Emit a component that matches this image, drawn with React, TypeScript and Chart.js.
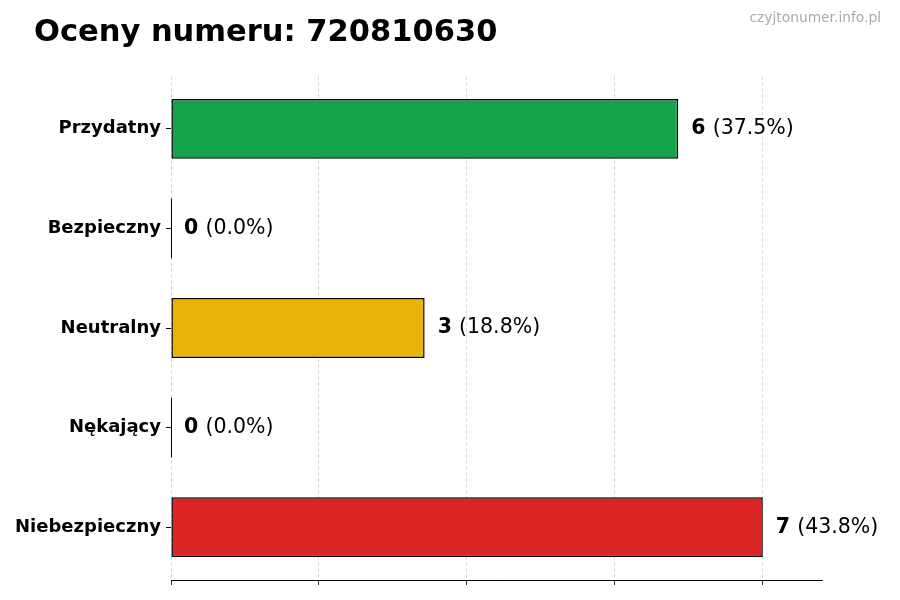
import React, { useEffect, useRef } from "react";
import { Chart, registerables } from "chart.js";

Chart.register(...registerables);

const categories = ["Przydatny", "Bezpieczny", "Neutralny", "Nękający", "Niebezpieczny"];
const counts = [6, 0, 3, 0, 7];
const percents = ["37.5%", "0.0%", "18.8%", "0.0%", "43.8%"];
const barColors = ["#16a34a", "#16a34a", "#eab308", "#dc2626", "#dc2626"];
const xTicks = [0, 1.75, 3.5, 5.25, 7];
const xMax = 7.7;
const yMin = -0.53;
const yMax = 4.53;
const titleText = "Oceny numeru: 720810630";
const watermark = "czyjtonumer.info.pl";

const FONT = "'DejaVu Sans', sans-serif";

const overlayPlugin = {
  id: "overlay",
  afterDatasetsDraw(chart: any) {
    const ctx = chart.ctx;
    const meta = chart.getDatasetMeta(0);
    ctx.save();
    meta.data.forEach((el: any, i: number) => {
      const props = el.getProps(["x", "y", "base", "height"], true);
      if (counts[i] === 0) {
        ctx.strokeStyle = "#000";
        ctx.lineWidth = 1;
        ctx.beginPath();
        ctx.moveTo(Math.round(props.base) + 0.5, props.y - props.height / 2);
        ctx.lineTo(Math.round(props.base) + 0.5, props.y + props.height / 2);
        ctx.stroke();
      }
      const x0 = props.x + 13;
      ctx.textBaseline = "middle";
      ctx.textAlign = "left";
      ctx.fillStyle = "#000";
      ctx.font = `bold 20.5px ${FONT}`;
      const numStr = String(counts[i]);
      ctx.fillText(numStr, x0, props.y);
      const w = ctx.measureText(numStr + " ").width;
      ctx.font = `20.5px ${FONT}`;
      ctx.fillText(`(${percents[i]})`, x0 + w, props.y);
    });
    ctx.restore();
  },
  afterDraw(chart: any) {
    const ctx = chart.ctx;
    ctx.save();
    ctx.fillStyle = "#000";
    ctx.textAlign = "left";
    ctx.textBaseline = "alphabetic";
    ctx.font = `bold 30.5px ${FONT}`;
    ctx.fillText(titleText, 34, 41);
    ctx.fillStyle = "#aaaaaa";
    ctx.textAlign = "right";
    ctx.font = `13.8px ${FONT}`;
    ctx.fillText(watermark, 881, 22);
    ctx.restore();
  },
};

export default function App() {
  const ref = useRef<HTMLCanvasElement | null>(null);
  useEffect(() => {
    if (!ref.current) return;
    const chart = new Chart(ref.current, {
      type: "bar",
      data: {
        datasets: [
          {
            data: counts.map((c, i) => ({ x: c, y: i })),
            backgroundColor: barColors,
            borderColor: "#000",
            borderWidth: 1.5,
            borderSkipped: false,
            inflateAmount: 0,
            categoryPercentage: 1,
            barPercentage: 0.6,
          },
        ],
      },
      options: {
        indexAxis: "y",
        animation: false,
        responsive: false,
        maintainAspectRatio: false,
        layout: { padding: { top: 76, right: 78, bottom: 15, left: 0 } },
        plugins: {
          legend: { display: false },
          tooltip: { enabled: false },
          title: { display: false },
        },
        scales: {
          x: {
            type: "linear",
            min: 0,
            max: xMax,
            z: 1,
            afterBuildTicks: (scale: any) => {
              scale.ticks = xTicks.map((v) => ({ value: v }));
            },
            ticks: { display: false },
            grid: {
              display: true,
              offset: false,
              drawOnChartArea: true,
              drawTicks: true,
              tickLength: 5,
              color: "rgba(180,180,180,0.6)",
              tickColor: "#000",
              lineWidth: 0.8,
            },
            border: { display: true, color: "#000", width: 1, dash: [4, 2] },
          },
          y: {
            type: "linear",
            min: yMin,
            max: yMax,
            reverse: true,
            offset: false,
            afterBuildTicks: (scale: any) => {
              scale.ticks = categories.map((_, i) => ({ value: i }));
            },
            afterFit: (scale: any) => {
              scale.width = 171;
            },
            ticks: {
              color: "#000",
              padding: 5,
              autoSkip: false,
              callback: (v: any) => categories[v] ?? "",
              font: { family: FONT, size: 18, weight: "bold" },
            },
            grid: {
              display: true,
              offset: false,
              drawOnChartArea: false,
              drawTicks: true,
              tickLength: 5,
              tickColor: "#000",
              color: "#000",
            },
            border: { display: false },
          },
        },
      },
      plugins: [overlayPlugin],
    } as any);
    return () => chart.destroy();
  }, []);
  return (
    <div style={{ position: "fixed", left: 0, top: 0, width: 900, height: 600, background: "#fff" }}>
      <canvas ref={ref} width={900} height={600} style={{ width: 900, height: 600 }} />
    </div>
  );
}
